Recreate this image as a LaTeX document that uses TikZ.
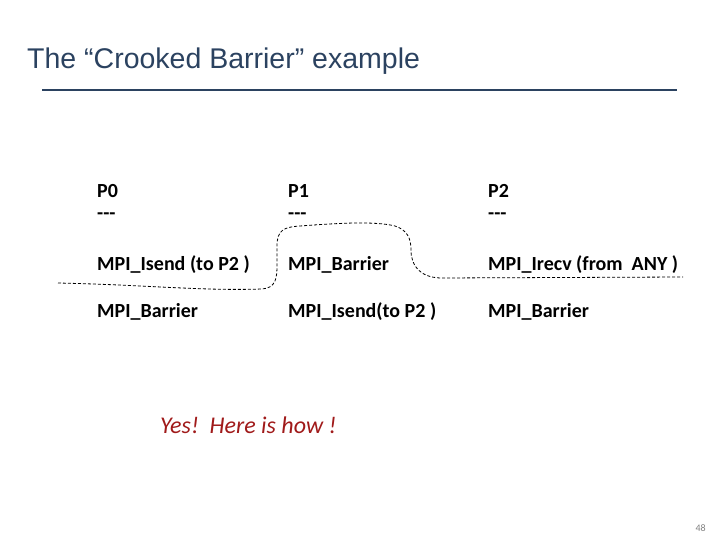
\documentclass[tikz,border=0pt]{standalone}
\usepackage{fontspec}
\setmainfont{Carlito}
\newfontfamily\titlefont{Liberation Sans}
\definecolor{titleblue}{HTML}{2B4260}
\definecolor{yesred}{HTML}{A01A1A}
\begin{document}
\begin{tikzpicture}[x=1pt,y=-1pt,
        cmd/.style={anchor=base west,inner sep=0pt,font=\fontsize{20}{24}\selectfont\bfseries},
        cut/.style={dash pattern=on 3pt off 2pt,line width=0.8pt}]
    \useasboundingbox (0,0) rectangle (720,540);

    % title and rule
    \node[anchor=base west,inner sep=0pt,text=titleblue,font=\titlefont\fontsize{28.5}{34}\selectfont] (title) at (27,69) {The “Crooked Barrier” example};
    \draw[titleblue,line width=2pt] (42,90) -- (677,90);

    % process columns
    \node[cmd] (p0) at (97,197) {P0};
    \node[cmd] (p0d) at (97,220) {-{}-{}-};
    \node[cmd] (p0a) at (97,270) {MPI\_Isend (to P2 )};
    \node[cmd] (p0b) at (97,317) {MPI\_Barrier};

    \node[cmd] (p1) at (288,197) {P1};
    \node[cmd] (p1d) at (288,220) {-{}-{}-};
    \node[cmd] (p1a) at (288,270) {MPI\_Barrier};
    \node[cmd] (p1b) at (288,317) {MPI\_Isend(to P2 )};

    \node[cmd] (p2) at (488,197) {P2};
    \node[cmd] (p2d) at (488,220) {-{}-{}-};
    \node[cmd] (p2a) at (488,270) {MPI\_Irecv (from\ \ ANY )};
    \node[cmd] (p2b) at (488,317) {MPI\_Barrier};

    % the crooked barrier
    \draw[cut] (58,283) .. controls (150,285) and (200,291) .. (262,289)
        .. controls (276,288) and (277,278) .. (277,265) -- (277,246)
        .. controls (277,230) and (284,227) .. (300,226)
        .. controls (340,223) and (375,221) .. (395,226)
        .. controls (407,230) and (411,238) .. (411,250)
        .. controls (411,266) and (420,277) .. (440,278) -- (683,277);

    \node[anchor=base west,inner sep=0pt,text=yesred,font=\fontsize{24}{28}\selectfont\itshape] (yes) at (160,433) {Yes!\ \ Here is how !};
    \node[anchor=base east,inner sep=0pt,text=gray,font=\fontsize{10}{12}\selectfont] (page) at (706,531) {48};
\end{tikzpicture}
\end{document}
